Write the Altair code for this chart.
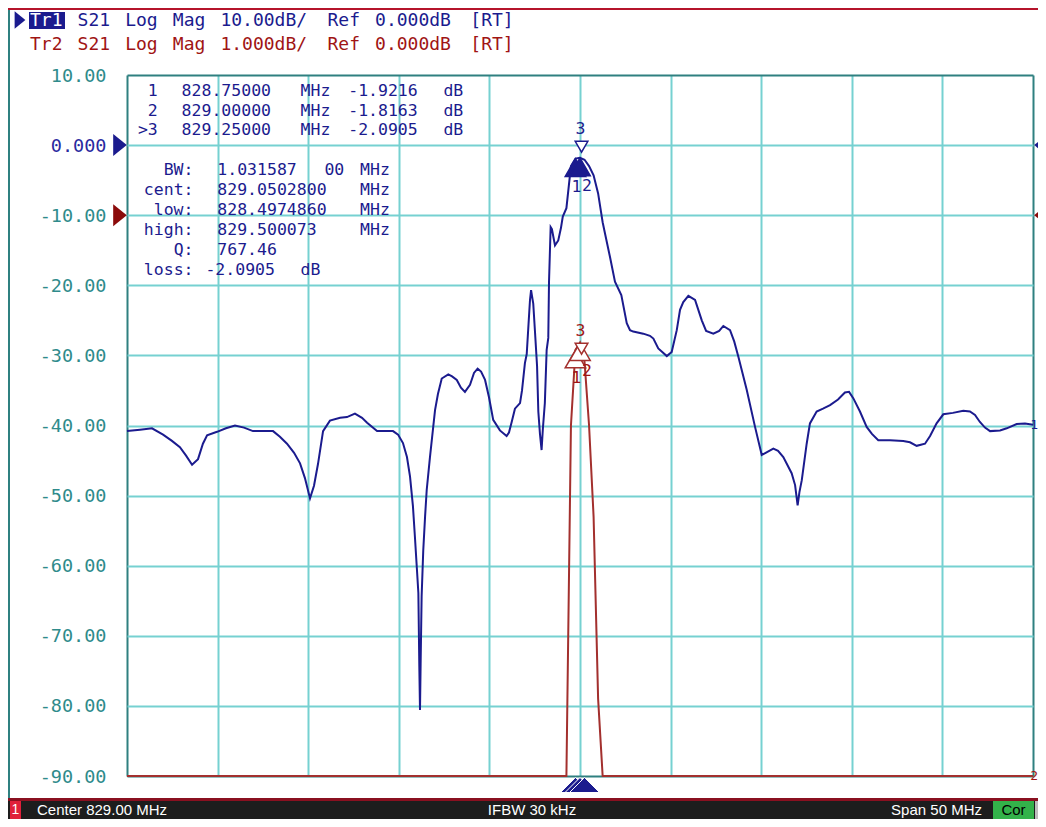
import altair as alt
import pandas as pd

freq_mhz = [
    804.00, 804.72, 805.38, 805.99, 806.48, 806.92, 807.26, 807.59, 807.92, 808.19,
    808.42, 808.97, 809.46, 809.96, 810.46, 810.95, 812.06, 812.44, 812.83, 813.22,
    813.55, 813.82, 814.10, 814.32, 814.54, 814.82, 815.20, 815.76, 816.14, 816.58,
    816.97, 817.25, 817.80, 818.68, 818.96, 819.23, 819.45, 819.62, 819.78, 819.89,
    820.00, 820.08, 820.13, 820.17, 820.21, 820.26, 820.35, 820.45, 820.54, 820.72,
    820.90, 821.00, 821.16, 821.37, 821.73, 821.94, 822.20, 822.43, 822.65, 822.93,
    823.15, 823.35, 823.54, 823.76, 823.98, 824.21, 824.58, 824.95, 825.08, 825.23,
    825.41, 825.69, 825.80, 825.96, 826.06, 826.16, 826.24, 826.30, 826.35, 826.42,
    826.52, 826.63, 826.70, 826.79, 826.88, 826.95, 827.06, 827.16, 827.25, 827.29,
    827.38, 827.45, 827.62, 827.80, 827.95, 828.05, 828.25, 828.50, 828.75, 829.00,
    829.25, 829.50, 829.75, 830.00, 830.25, 830.38, 830.65, 830.93, 831.28, 831.58,
    831.76, 831.94, 832.49, 832.86, 833.05, 833.32, 833.79, 834.06, 834.34, 834.52,
    834.70, 834.98, 835.35, 835.72, 835.96, 836.36, 836.68, 836.91, 837.28, 837.51,
    837.74, 838.20, 838.66, 839.03, 839.32, 839.67, 839.93, 840.22, 840.68, 840.87,
    841.01, 841.11, 841.24, 841.51, 841.69, 842.06, 842.41, 842.80, 843.24, 843.62,
    843.85, 844.08, 844.45, 844.82, 845.11, 845.46, 846.11, 846.84, 847.21, 847.58,
    848.04, 848.32, 848.68, 849.05, 849.58, 850.15, 850.52, 850.80, 851.07, 851.35,
    851.63, 852.18, 852.55, 853.10, 853.56, 854.00,
]
s21_db = [
    -40.8, -40.6, -40.4, -41.3, -42.2, -43.1, -44.3, -45.6, -44.8, -42.6,
    -41.4, -40.9, -40.4, -40.0, -40.3, -40.8, -40.8, -41.6, -42.6, -43.9,
    -45.4, -47.5, -50.4, -48.6, -45.5, -40.8, -39.3, -38.9, -38.8, -38.3,
    -38.9, -39.6, -40.8, -40.8, -41.3, -42.5, -44.5, -47.3, -51.5, -55.9,
    -60.5, -63.9, -74.0, -80.6, -73.0, -64.4, -57.8, -53.0, -49.2, -44.5,
    -40.2, -37.8, -35.5, -33.3, -32.7, -33.0, -33.5, -34.6, -35.2, -34.2,
    -32.5, -31.9, -32.3, -33.5, -36.0, -39.2, -40.7, -41.5, -41.0, -39.5,
    -37.6, -36.8, -35.0, -31.1, -29.8, -25.5, -22.1, -20.7, -21.5, -22.6,
    -26.8, -31.5, -38.0, -41.2, -43.5, -40.5, -36.8, -29.2, -27.5, -19.5,
    -11.7, -12.0, -14.3, -13.6, -11.8, -10.2, -9.0, -3.0, -1.92, -1.82,
    -2.09, -3.0, -4.3, -6.9, -11.0, -12.6, -15.9, -19.5, -21.4, -25.4,
    -26.4, -26.6, -26.9, -27.2, -27.6, -29.0, -30.1, -29.5, -26.4, -23.5,
    -22.4, -21.5, -22.1, -25.0, -26.5, -26.9, -26.5, -25.8, -26.4, -28.0,
    -30.2, -34.9, -40.2, -44.2, -43.8, -43.3, -43.6, -44.5, -46.8, -48.5,
    -51.4, -49.5, -47.8, -42.6, -39.7, -38.0, -37.6, -37.1, -36.3, -35.3,
    -35.2, -36.1, -38.0, -40.2, -41.2, -42.1, -42.1, -42.2, -42.4, -42.9,
    -42.6, -41.5, -39.7, -38.4, -38.2, -37.9, -38.0, -38.5, -39.5, -40.3,
    -40.8, -40.7, -40.4, -39.8, -39.7, -39.9,
]

marker_ids = [1, 2, 3]
marker_freq_mhz = [828.75, 829.00, 829.25]
marker_db = [-1.9216, -1.8163, -2.0905]
active_marker = 3

bw_mhz = 1.03158700
cent_mhz = 829.0502800
low_mhz = 828.4974860
high_mhz = 829.500073
q_factor = 767.46
loss_db = -2.0905

center_mhz = 829.00
span_mhz = 50
ifbw_khz = 30
ref_db = 0.0
tr1_db_per_div = 10.0
tr2_db_per_div = 1.0
tr1_ref_div = 9
tr2_ref_div = 8
n_div = 10

y_ticks = [10, 0, -10, -20, -30, -40, -50, -60, -70, -80, -90]
x_ticks = [804, 809, 814, 819, 824, 829, 834, 839, 844, 849, 854]

# ---------------- styling ----------------
MONO = "DejaVu Sans Mono"
SANS = "Liberation Sans"
FS_HEAD = 18
FS_TAB = 16.5
FS_BAR = 15
BLUE = "#1b1b8e"
RED = "#a3302e"
RED_TXT = "#a01414"
RED_DARK = "#8b0a0a"
TEAL_TXT = "#2f8b8b"
GRID = "#76d1d1"
FRAME = "#2f8080"
W, H = 906, 701
CH = 11.9  # character pitch of the instrument font, px

tr1_dom = [ref_db - tr1_ref_div * tr1_db_per_div, ref_db + (n_div - tr1_ref_div) * tr1_db_per_div]
tr2_dom = [ref_db - tr2_ref_div * tr2_db_per_div, ref_db + (n_div - tr2_ref_div) * tr2_db_per_div]
x_dom = [center_mhz - span_mhz / 2, center_mhz + span_mhz / 2]

trace = pd.DataFrame({"freq": freq_mhz, "db": s21_db})
mk = pd.DataFrame({"id": marker_ids, "freq": marker_freq_mhz, "db": marker_db})
mk["label"] = mk["id"].astype(str)
ref_df = pd.DataFrame({"db": [ref_db]})
last_pt = trace.tail(1)

x_axis = alt.Axis(
    values=x_ticks, grid=True, labels=False, ticks=False, domain=False, title=None,
    gridWidth=2,
    gridColor={"condition": {"test": f"datum.value === {x_ticks[0]} || datum.value === {x_ticks[-1]}",
                             "value": FRAME}, "value": GRID},
)
y_axis = alt.Axis(
    values=y_ticks, orient="left", grid=True, ticks=False, domain=False, title=None,
    gridWidth=2,
    gridColor={"condition": {"test": f"datum.value === {y_ticks[0]} || datum.value === {y_ticks[-1]}",
                             "value": FRAME}, "value": GRID},
    labelExpr="datum.value === 0 ? '0.000' : (datum.value < 0 ? '-' : '') + format(abs(datum.value), '.2f')",
    labelFont=MONO, labelFontSize=18.5, labelPadding=21, labelBaseline="middle",
    labelColor={"condition": {"test": "datum.value === 0", "value": "#2a2aa0"}, "value": TEAL_TXT},
)

X = alt.X("freq:Q", scale=alt.Scale(domain=x_dom, nice=False, zero=False), axis=x_axis)
Y1 = alt.Y("db:Q", scale=alt.Scale(domain=tr1_dom, nice=False, zero=False), axis=y_axis)
Y2 = alt.Y("db:Q", scale=alt.Scale(domain=tr2_dom, nice=False, zero=False, clamp=True), axis=None)

TRI_R = "M-0.62,-1L0.62,0L-0.62,1Z"
TRI_L = "M0.62,-1L-0.62,0L0.62,1Z"
TRI_FLAT = "M-1,0.5L1,0.5L0,-0.5Z"


def trace_layers(Y, color, filled12, label_color, ref_color, end_text):
    m12 = mk[mk["id"] != active_marker]
    m3 = mk[mk["id"] == active_marker]
    line = alt.Chart(trace).mark_line(color=color, strokeWidth=2).encode(x=X, y=Y)
    tri12 = alt.Chart(m12).mark_point(
        shape="triangle-up", size=420, filled=True, opacity=1,
        color=color if filled12 else "white", stroke=color, strokeWidth=1.5, yOffset=9,
    ).encode(x=X, y=Y)
    tri3 = alt.Chart(m3).mark_point(
        shape="triangle-down", size=160, filled=True, opacity=1, color="white",
        stroke=color, strokeWidth=1.5, yOffset=-13, xOffset=-3,
    ).encode(x=X, y=Y)
    lab1 = alt.Chart(m12[m12["id"] == 1]).mark_text(
        font=MONO, fontSize=FS_TAB, color=label_color, dx=1, dy=28, baseline="middle"
    ).encode(x=X, y=Y, text="label:N")
    lab2 = alt.Chart(m12[m12["id"] == 2]).mark_text(
        font=MONO, fontSize=FS_TAB, color=label_color, dx=7, dy=28, baseline="middle"
    ).encode(x=X, y=Y, text="label:N")
    lab3 = alt.Chart(m3).mark_text(
        font=MONO, fontSize=FS_TAB, color=label_color, dx=-4, dy=-31, baseline="middle"
    ).encode(x=X, y=Y, text="label:N")
    ref_left = alt.Chart(ref_df).mark_point(
        shape=TRI_R, size=484, filled=True, opacity=1, color=ref_color
    ).encode(x=alt.value(-7), y=Y)
    ref_right = alt.Chart(ref_df).mark_point(
        shape=TRI_L, size=484, filled=True, opacity=1, color=ref_color
    ).encode(x=alt.value(W + 8), y=Y)
    end_lab = alt.Chart(last_pt).mark_text(
        font=MONO, fontSize=13, color=label_color, align="right", baseline="middle"
    ).encode(x=alt.value(W + 5), y=Y, text=alt.value(end_text))
    return alt.layer(line, tri12, tri3, lab1, lab2, lab3, ref_left, ref_right, end_lab)


tr2 = trace_layers(Y2, RED, False, RED_TXT, RED_DARK, "2")
stim = alt.Chart(mk).mark_point(
    shape=TRI_FLAT, size=900, filled=True, opacity=1, color=BLUE, stroke="white", strokeWidth=1
).encode(x=X, y=alt.value(H + 9))
tr1 = alt.layer(trace_layers(Y1, BLUE, True, BLUE, BLUE, "1"), stim)


def txt(s, x, y, color, size=FS_TAB, align="left", font=MONO, weight="normal"):
    return alt.Chart(alt.Data(values=[{"t": s}])).mark_text(
        align=align, baseline="middle", font=font, fontSize=size, color=color, fontWeight=weight
    ).encode(x=alt.value(x), y=alt.value(y), text="t:N")


def box(x, x2, y, y2, color):
    return alt.Chart(alt.Data(values=[{"a": 1}])).mark_rect(color=color).encode(
        x=alt.value(x), x2=alt.value(x2), y=alt.value(y), y2=alt.value(y2)
    )


def line_tokens(tokens, x0, y, color, size):
    """tokens: list of (char index, text) laid on the instrument's character grid"""
    return [txt(t, x0 + i * CH, y, color, size=size) for i, t in tokens]


ann = []
# window frame bits
ann.append(box(-119, W + 5, -67, -65, "#b5142b"))
ann.append(box(-119, -117, -65, 723, FRAME))
ann.append(box(-119, W + 5, 723, 726, "#8a1020"))

# header
ann.append(alt.Chart(alt.Data(values=[{"a": 1}])).mark_point(
    shape=TRI_R, size=300, filled=True, opacity=1, color=BLUE).encode(x=alt.value(-107), y=alt.value(-55)))
ann.append(box(-98, -62, -63, -46, BLUE))
hx0 = -97
head1 = [(0, "Tr1"), (4, "S21"), (8, "Log"), (12, "Mag"), (16, f"{tr1_db_per_div:.2f}dB/"),
         (25, "Ref"), (29, f"{ref_db:.3f}dB"), (37, "[RT]")]
head2 = [(0, "Tr2"), (4, "S21"), (8, "Log"), (12, "Mag"), (16, f"{tr2_db_per_div:.3f}dB/"),
         (25, "Ref"), (29, f"{ref_db:.3f}dB"), (37, "[RT]")]
ann.append(txt(head1[0][1], hx0, -54.5, "white", size=FS_HEAD))
ann += line_tokens(head1[1:], hx0, -54.5, BLUE, FS_HEAD)
ann += line_tokens(head2, hx0, -30.5, RED_TXT, FS_HEAD)

# marker table
tx0 = 7
for i, (mid, f, v) in enumerate(zip(marker_ids, marker_freq_mhz, marker_db)):
    yy = 16 + i * 19.5
    ann.append(txt((">" if mid == active_marker else "") + str(mid), tx0 + 2 * CH, yy, BLUE, align="right"))
    ann += line_tokens([(4, f"{f:.5f}"), (14, "MHz"), (18, f"{v:.4f}"), (26, "dB")], tx0, yy, BLUE, FS_TAB)

bw_s = f"{bw_mhz:.8f}"
stats = [
    ("BW:", [(7, bw_s[:8]), (16, bw_s[8:]), (19, "MHz")]),
    ("cent:", [(7, f"{cent_mhz:.7f}"), (19, "MHz")]),
    ("low:", [(7, f"{low_mhz:.7f}"), (19, "MHz")]),
    ("high:", [(7, f"{high_mhz:.6f}"), (19, "MHz")]),
    ("Q:", [(7, f"{q_factor:.2f}")]),
    ("loss:", [(6, f"{loss_db:.4f}"), (14, "dB")]),
]
for i, (lab, toks) in enumerate(stats):
    yy = 95 + i * 20
    ann.append(txt(lab, tx0 + 5 * CH, yy, BLUE, align="right"))
    ann += line_tokens(toks, tx0, yy, BLUE, FS_TAB)

# status bar
ann.append(box(-119, W + 5, 726, 744, "#1d1d1d"))
ann.append(box(-117, -106, 726, 744, "#e0203a"))
ann.append(txt("1", -111.5, 735, "white", size=14, align="center", font=SANS))
ann.append(txt(f"Center {center_mhz:.2f} MHz", -90, 735, "white", size=FS_BAR, font=SANS))
ann.append(txt(f"IFBW {ifbw_khz} kHz", 405, 735, "white", size=FS_BAR, align="center", font=SANS))
ann.append(txt(f"Span {span_mhz} MHz", 855, 735, "white", size=FS_BAR, align="right", font=SANS))
ann.append(box(866, 907, 726, 744, "#33b24a"))
ann.append(txt("Cor", 886.5, 735, "black", size=FS_BAR, align="center", font=SANS))
ann.append(box(908, W + 5, 726, 744, "#bdbdbd"))

overlay = alt.layer(*ann)

chart = alt.layer(tr2, tr1, overlay).resolve_scale(y="independent").properties(
    width=W, height=H,
    padding={"left": 119, "top": 67, "right": 5, "bottom": 43},
    autosize=alt.AutoSizeParams(type="none"),
    background="white",
).configure_view(stroke="transparent")

chart.save("out.html", embed_options={"renderer": "svg", "actions": False})
